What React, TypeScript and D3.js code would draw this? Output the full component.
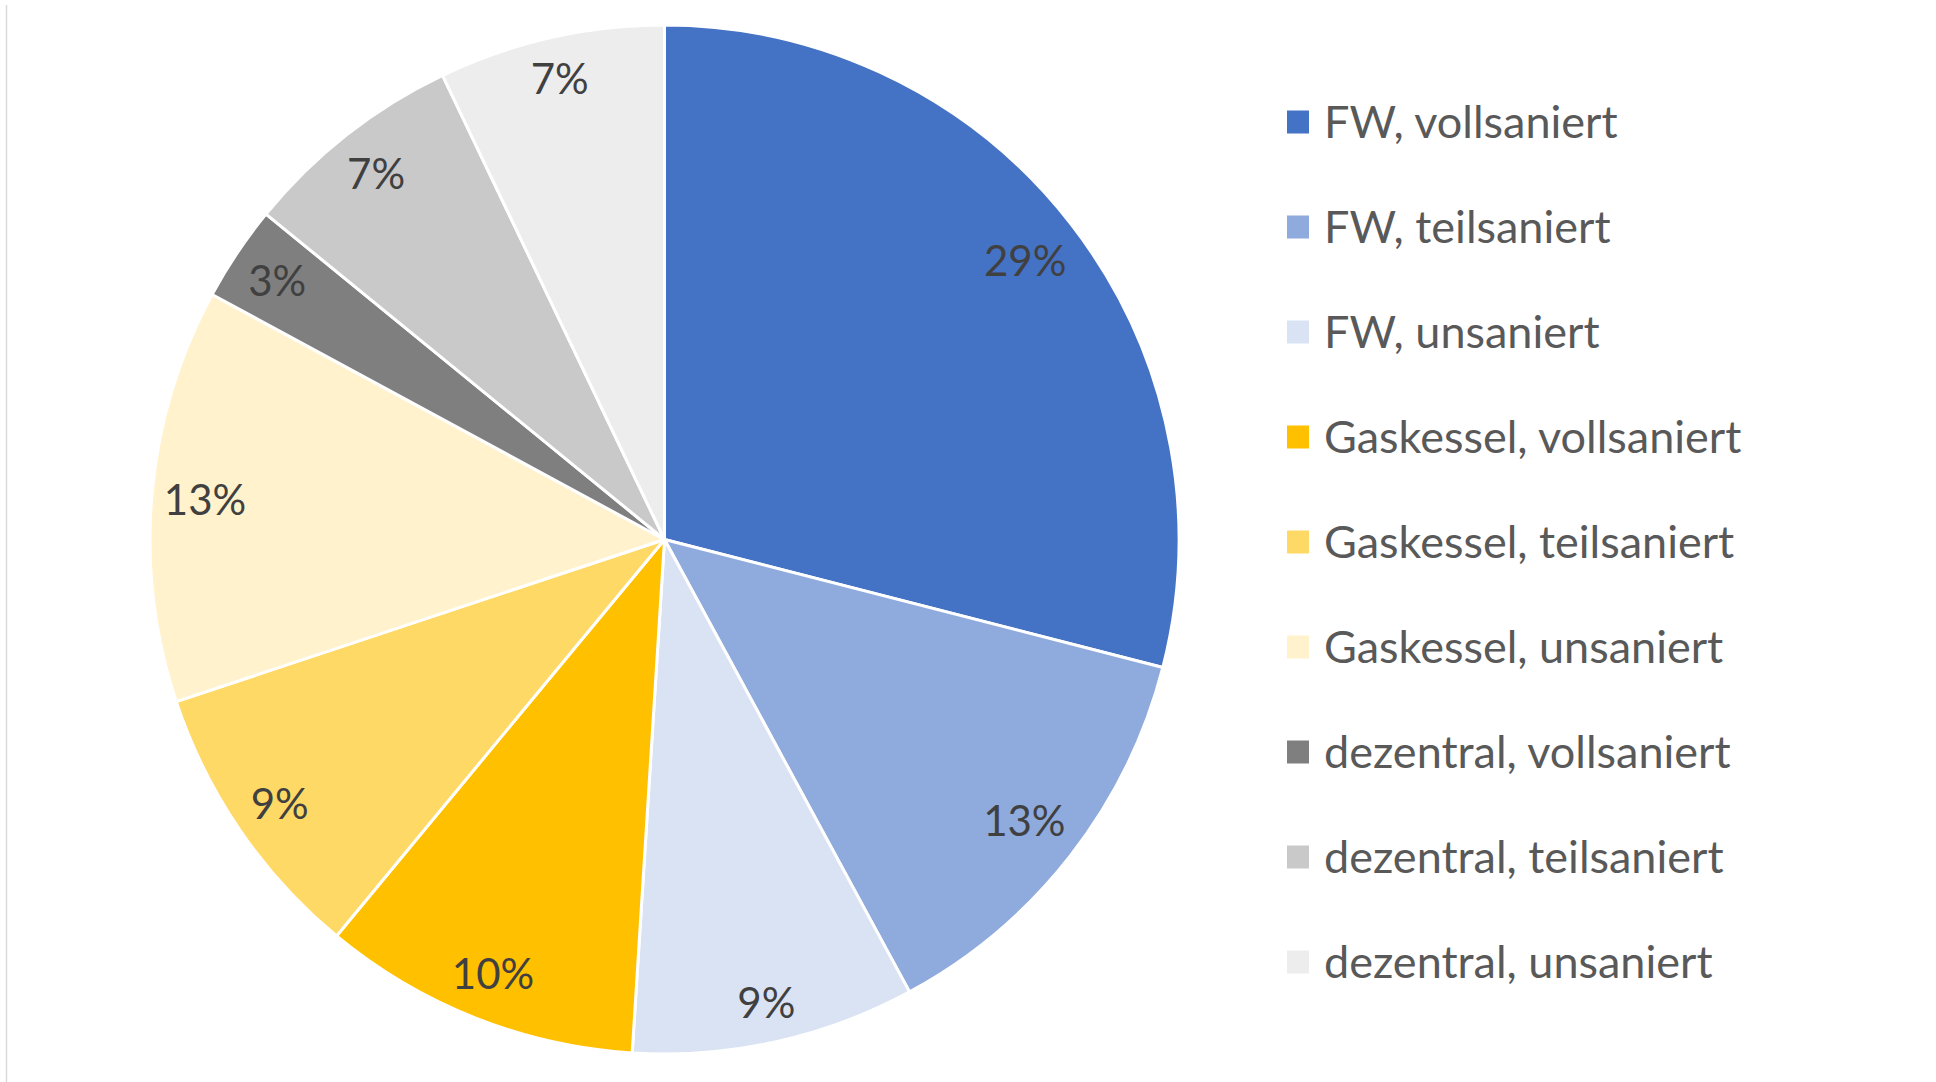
import React, { useEffect, useRef } from 'react';
import * as d3 from 'd3';

// Shares (percent)
const categories = [
  'FW, vollsaniert',
  'FW, teilsaniert',
  'FW, unsaniert',
  'Gaskessel, vollsaniert',
  'Gaskessel, teilsaniert',
  'Gaskessel, unsaniert',
  'dezentral, vollsaniert',
  'dezentral, teilsaniert',
  'dezentral, unsaniert',
];
const shares = [29.0, 13.1, 8.9, 10.0, 8.9, 13.0, 3.0, 7.0, 7.1];
const colors = [
  '#4472C4', '#8FAADC', '#DAE3F3',
  '#FFC000', '#FFD966', '#FFF2CC',
  '#7F7F7F', '#C9C9C9', '#EDEDED',
];

const W = 1936;
const H = 1082;
const FONT = 'Lato, "Open Sans", sans-serif';

const App = () => {
  const svgRef = useRef<SVGSVGElement>(null);

  useEffect(() => {
    if (!svgRef.current) return;
    const svg = d3.select(svgRef.current);
    svg.selectAll('*').remove();

    const cx = 664.5;
    const cy = 539.5;
    const R = 514.5;

    // frame line on the left
    svg.append('line')
      .attr('x1', 6.5).attr('x2', 6.5)
      .attr('y1', 5).attr('y2', H)
      .attr('stroke', '#D9D9D9')
      .attr('stroke-width', 1.5);

    const data = categories.map((c, i) => ({ name: c, value: shares[i], color: colors[i] }));

    const pie = d3.pie<any>().value(d => d.value).sort(null);
    const arcs = pie(data);
    const arc = d3.arc<any>().innerRadius(0).outerRadius(R);

    const g = svg.append('g').attr('transform', `translate(${cx},${cy})`);

    g.selectAll('path.slice')
      .data(arcs)
      .enter().append('path')
      .attr('class', 'slice')
      .attr('d', arc)
      .attr('fill', d => d.data.color)
      .attr('stroke', '#fff')
      .attr('stroke-width', 3)
      .attr('stroke-linejoin', 'round');

    // data labels, placed "inside end"
    const fontSize = 42;
    const margin = 10;
    arcs.forEach(a => {
      const t = g.append('text')
        .attr('font-family', FONT)
        .attr('font-size', fontSize)
        .attr('fill', '#404040')
        .attr('text-anchor', 'middle')
        .attr('dominant-baseline', 'central')
        .text(`${Math.round(a.data.value)}%`);
      const bb = (t.node() as SVGTextElement).getBBox();
      const hw = bb.width / 2;
      const hh = fontSize * 0.6;
      const mid = (a.startAngle + a.endAngle) / 2;
      const ux = Math.sin(mid);
      const uy = -Math.cos(mid);
      const support = hw * Math.abs(ux) + hh * Math.abs(uy);
      const r = R - support - margin;
      t.attr('x', ux * r).attr('y', uy * r);
    });

    // legend
    const legendY = d3.scaleLinear().domain([0, 1]).range([122, 227]);
    const leg = svg.append('g');
    data.forEach((d, i) => {
      const y = legendY(i);
      leg.append('rect')
        .attr('x', 1287).attr('y', y - 11.5)
        .attr('width', 22).attr('height', 23)
        .attr('fill', d.color);
      leg.append('text')
        .attr('x', 1324).attr('y', y + 15.5)
        .attr('font-family', FONT)
        .attr('font-size', 45)
        .attr('fill', '#595959')
        .text(d.name);
    });
  }, []);

  return (
    <svg
      ref={svgRef}
      width={W}
      height={H}
      style={{ position: 'absolute', left: 0, top: 0, background: '#fff' }}
    />
  );
};

export default App;
